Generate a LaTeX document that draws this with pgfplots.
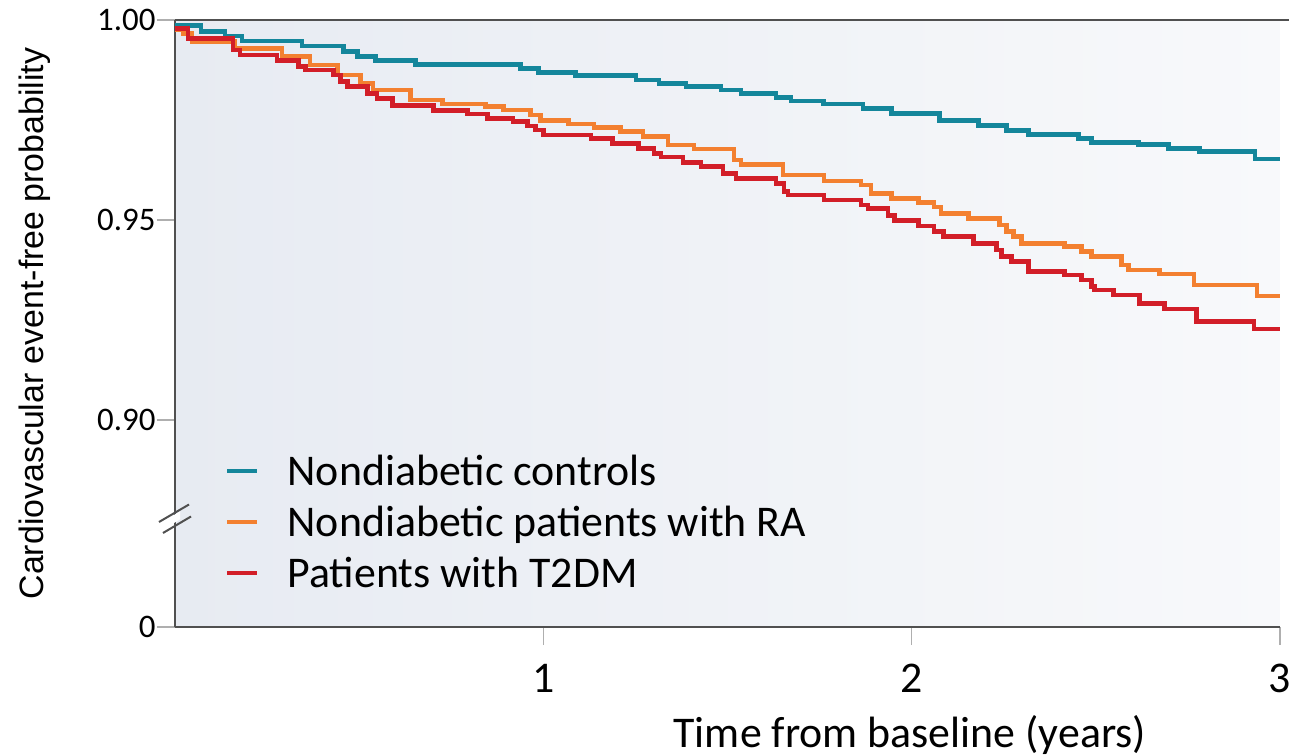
\documentclass[border=0pt]{standalone}
\usepackage{fontspec}
\setmainfont{Carlito}
\newfontfamily\arialfont{Liberation Sans}
\usepackage{pgfplots}
\pgfplotsset{compat=1.18}

\definecolor{ctrlteal}{RGB}{20,134,155}
\definecolor{raorange}{RGB}{243,128,48}
\definecolor{dmred}{RGB}{210,30,40}
\definecolor{axisgrey}{RGB}{80,80,80}
\definecolor{tickgrey}{RGB}{175,175,175}
\definecolor{bgleft}{RGB}{231,235,242}
\definecolor{bgright}{RGB}{248,249,251}

% Kaplan-Meier step estimates (time in years, event-free probability)
\pgfplotstableread{
t      s
0.000  0.99858
0.071  0.99708
0.136  0.99600
0.182  0.99475
0.345  0.99350
0.457  0.99208
0.495  0.99083
0.544  0.98983
0.653  0.98893
0.938  0.98793
0.987  0.98693
1.088  0.98608
1.251  0.98500
1.314  0.98418
1.387  0.98333
1.482  0.98250
1.537  0.98168
1.632  0.98068
1.673  0.97975
1.760  0.97900
1.868  0.97793
1.945  0.97668
2.075  0.97483
2.181  0.97358
2.257  0.97233
2.317  0.97143
2.453  0.97043
2.488  0.96943
2.616  0.96893
2.698  0.96793
2.782  0.96708
2.932  0.96525
3.000  0.96525
}\controls

\pgfplotstableread{
t      s
0.000  0.99750
0.022  0.99668
0.046  0.99458
0.163  0.99293
0.291  0.99083
0.367  0.98875
0.441  0.98625
0.503  0.98418
0.538  0.98250
0.639  0.98000
0.726  0.97900
0.843  0.97833
0.892  0.97750
0.965  0.97625
0.993  0.97483
1.069  0.97400
1.137  0.97318
1.210  0.97208
1.270  0.97083
1.338  0.96875
1.409  0.96775
1.518  0.96500
1.537  0.96393
1.651  0.96125
1.762  0.95975
1.863  0.95875
1.890  0.95668
1.945  0.95543
2.018  0.95433
2.061  0.95325
2.080  0.95168
2.154  0.95043
2.238  0.94875
2.257  0.94708
2.276  0.94583
2.298  0.94418
2.415  0.94333
2.461  0.94208
2.488  0.94083
2.570  0.93875
2.589  0.93750
2.673  0.93650
2.766  0.93375
2.937  0.93100
3.000  0.93100
}\ragroup

\pgfplotstableread{
t      s
0.000  0.99793
0.035  0.99543
0.158  0.99250
0.177  0.99125
0.277  0.98983
0.335  0.98833
0.354  0.98750
0.430  0.98625
0.449  0.98458
0.468  0.98333
0.522  0.98168
0.549  0.98043
0.590  0.97858
0.702  0.97733
0.794  0.97650
0.849  0.97543
0.917  0.97458
0.957  0.97350
0.979  0.97250
1.001  0.97125
1.129  0.97043
1.188  0.96918
1.259  0.96793
1.300  0.96668
1.319  0.96575
1.379  0.96433
1.428  0.96333
1.488  0.96168
1.523  0.96043
1.632  0.95918
1.654  0.95708
1.664  0.95625
1.762  0.95500
1.863  0.95375
1.882  0.95293
1.936  0.95108
1.953  0.94983
2.018  0.94850
2.061  0.94708
2.086  0.94583
2.168  0.94418
2.230  0.94250
2.244  0.94083
2.271  0.93958
2.317  0.93708
2.415  0.93625
2.461  0.93500
2.488  0.93333
2.497  0.93250
2.548  0.93125
2.619  0.92918
2.687  0.92775
2.774  0.92458
2.929  0.92275
3.000  0.92275
}\dmgroup

\begin{document}
\begin{tikzpicture}
\path[use as bounding box] (-175bp,-129bp) rectangle (1114bp,627bp);
\begin{axis}[
  at={(0bp,0bp)}, anchor=south west,
  width=1105bp, height=607bp, scale only axis,
  xmin=0, xmax=3, ymin=0.84825, ymax=1.0,
  axis x line=bottom, axis y line=left,
  axis line style={-, draw=axisgrey, line width=2.5bp},
  axis background/.style={shade, left color=bgleft, right color=bgright},
  xtick={1,2,3},
  ytick={0.84825,0.9,0.95,1.0},
  yticklabels={0,0.90,0.95,1.00},
  tick align=outside,
  major tick length=18bp,
  xtick style={draw=tickgrey, line width=1.2bp},
  ytick style={draw=tickgrey, line width=1.2bp},
  /pgf/number format/assume math mode=true,
  xticklabel style={font=\fontsize{44}{52}\selectfont, yshift=-16bp},
  yticklabel style={font=\fontsize{33}{40}\selectfont, xshift=2bp},
  xlabel={Time from baseline (years)},
  xlabel style={font=\fontsize{44}{52}\selectfont, at={(axis description cs:0.665,0)}, anchor=center, yshift=-108bp},
  ylabel={\arialfont Cardiovascular event-free probability},
  ylabel style={font=\fontsize{34}{40}\selectfont, at={(axis description cs:-0.1267,0.5)}, anchor=center},
  legend style={at={(axis description cs:0.0425,0.29)}, anchor=north west,
    draw=none, fill=none, font=\fontsize{44}{52}\selectfont,
    row sep=15bp, legend cell align=left,
    /tikz/every odd column/.append style={column sep=26bp}},
  legend image code/.code={\draw[#1, line width=4.5bp] (0bp,0bp) -- (30bp,0bp);},
  every axis plot/.append style={line width=4.5bp, line join=miter},
]
\addplot[const plot, ctrlteal] table[x=t, y=s] {\controls};
\addlegendentry{Nondiabetic controls}
\addplot[const plot, raorange] table[x=t, y=s] {\ragroup};
\addlegendentry{Nondiabetic patients with RA}
\addplot[const plot, dmred] table[x=t, y=s] {\dmgroup};
\addlegendentry{Patients with T2DM}

% anchor points for the frame and the axis break
\coordinate (topleft) at (rel axis cs:0,1);
\coordinate (topright) at (rel axis cs:1,1);
\coordinate (brk) at (axis cs:0,0.87525);
\end{axis}
% top frame line
\draw[axisgrey, line width=2.5bp] (topleft) -- ([xshift=9bp]topright);
% axis break on the y axis
\fill[white] ([xshift=-5bp,yshift=-6.4bp]brk) -- ([xshift=5bp,yshift=-0.4bp]brk)
  -- ([xshift=5bp,yshift=7.6bp]brk) -- ([xshift=-5bp,yshift=1.6bp]brk) -- cycle;
\draw[axisgrey, line width=2bp] ([xshift=-12bp,yshift=-14bp]brk) -- ([xshift=16bp,yshift=2.5bp]brk);
\draw[axisgrey, line width=2bp] ([xshift=-16bp,yshift=-3bp]brk) -- ([xshift=14bp,yshift=14.5bp]brk);
\end{tikzpicture}
\end{document}
